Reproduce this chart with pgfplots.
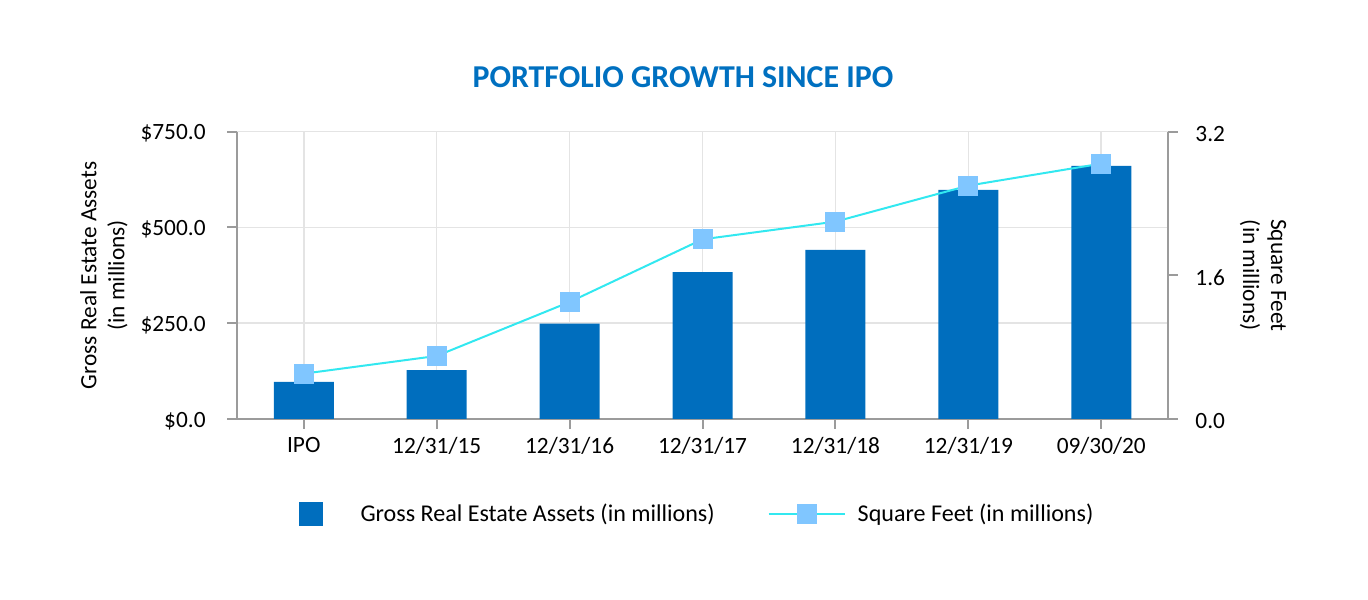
\documentclass[border=0pt]{standalone}
\usepackage{fontspec}
\setmainfont{Carlito}
\usepackage{pgfplots}
\pgfplotsset{compat=1.18}
\definecolor{barblue}{RGB}{0,110,190}
\definecolor{mkblue}{RGB}{128,198,255}
\definecolor{lncyan}{RGB}{50,232,240}
\definecolor{titleblue}{RGB}{0,112,192}
\definecolor{gridgray}{RGB}{228,228,228}
\definecolor{axisgray}{RGB}{155,155,155}
\newcommand\lblfont{\fontsize{17.5}{21}\selectfont}
\pgfplotsset{
  lineleg/.style={legend image code/.code={\draw[mark repeat=2,mark phase=2,##1] plot coordinates {(0pt,0pt)(28.5pt,0pt)(57pt,0pt)}; \path (66pt,0pt);}},
  barleg/.style={legend image code/.code={\fill[barblue] (0pt,-8.6pt) rectangle (17.25pt,8.6pt); \path (45.75pt,0pt);}},
}
\begin{document}
\begin{tikzpicture}
\path[use as bounding box] (0,0) rectangle (1026pt,450pt);
\begin{axis}[
  at={(177.975pt,135.75pt)}, anchor=south west,
  scale only axis, width=697.8pt, height=215.5pt,
  xmin=-0.5, xmax=6.5, ymin=0, ymax=750,
  xtick={0,1,2,3,4,5,6},
  xticklabels={IPO,12/31/15,12/31/16,12/31/17,12/31/18,12/31/19,09/30/20},
  ytick={0,250,500,750},
  yticklabels={\$0.0,\$250.0,\$500.0,\$750.0},
  axis x line*=bottom, axis y line*=left,
  tick align=outside,
  major tick length=7.5pt,
  xmajorgrids, ymajorgrids,
  major grid style={color=gridgray, line width=1.2pt},
  axis line style={color=axisgray, line width=1.5pt},
  major tick style={color=axisgray, line width=1.5pt},
  tick label style={font=\lblfont, text=black},
  xticklabel style={yshift=-2.6pt},
  yticklabel style={xshift=-12.75pt, yshift=-1.5pt},
  ylabel={Gross Real Estate Assets\\(in millions)},
  ylabel style={font=\lblfont, align=center, at={(axis description cs:-0.1433,0.5)}, anchor=center, rotate=0},
  title={PORTFOLIO GROWTH SINCE IPO},
  title style={font=\fontsize{23.9}{28}\selectfont\bfseries, text=titleblue, at={(axis description cs:0.479,1.126)}, anchor=base},
]
\addplot[ybar, bar width=45pt, fill=barblue, draw=none] coordinates {
  (0,96.6) (1,127.9) (2,248.8) (3,383.7) (4,441.2) (5,597.8) (6,660.5)
};
\end{axis}
\begin{axis}[
  at={(177.975pt,135.75pt)}, anchor=south west,
  scale only axis, width=697.8pt, height=215.5pt,
  xmin=-0.5, xmax=6.5, ymin=0, ymax=3.2,
  ytick={0,1.6,3.2},
  yticklabels={0.0,1.6,3.2},
  axis y line*=right, axis x line=none,
  tick align=outside,
  major tick length=7.5pt,
  axis line style={color=axisgray, line width=1.5pt},
  major tick style={color=axisgray, line width=1.5pt},
  tick label style={font=\lblfont, text=black},
  yticklabel style={xshift=9.75pt, yshift=-1.5pt},
  ylabel={Square Feet\\(in millions)},
  ylabel style={font=\lblfont, align=center, at={(axis description cs:1.1024,0.5)}, anchor=center, rotate=180},
  legend columns=2,
  legend style={at={(axis description cs:0.0663,-0.329)}, anchor=west, draw=none, fill=none,
    inner sep=0pt, outer sep=0pt, font=\fontsize{18.05}{21}\selectfont,
    nodes={inner sep=0pt},
    /tikz/every odd column/.append style={column sep=0pt},
    /tikz/every even column/.append style={column sep=39.75pt}},
]
\addlegendimage{barleg}
\addlegendentry{Gross Real Estate Assets (in millions)}
\addplot[color=lncyan, line width=1.5pt, mark=square*, mark size=7.1pt,
  mark options={fill=mkblue, draw=mkblue, line width=0.8pt}, lineleg]
 coordinates {
  (0,0.505) (1,0.702) (2,1.303) (3,2.001) (4,2.198) (5,2.599) (6,2.844)
};
\addlegendentry{Square Feet (in millions)}
\end{axis}
\end{tikzpicture}
\end{document}
